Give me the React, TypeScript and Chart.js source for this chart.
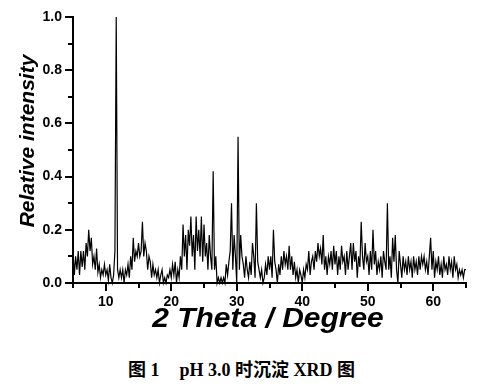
import React, { useEffect, useRef } from "react";
import { Chart, registerables } from "chart.js";

Chart.register(...registerables);

// 2θ scan: start angle and step (degrees)
const angleStart = 5;
const angleStep = 0.2;

// Relative intensity, one row per degree (5 readings per degree), 5° … 65°
const intensity: number[] = [
  0.12, 0.03, 0.10, 0.05, 0.12, // 5
  0.03, 0.12, 0.06, 0.12, 0.05, // 6
  0.15, 0.10, 0.20, 0.12, 0.17, // 7
  0.07, 0.10, 0.05, 0.13, 0.04, // 8
  0.07, 0.02, 0.05, 0.03, 0.07, // 9
  0.03, 0.05, 0.01, 0.07, 0.02, // 10
  0.00, 0.03, 0.12, 1.00, 0.05, // 11
  0.02, 0.05, 0.02, 0.05, 0.00, // 12
  0.05, 0.03, 0.07, 0.02, 0.10, // 13
  0.05, 0.17, 0.08, 0.12, 0.10, // 14
  0.15, 0.10, 0.12, 0.23, 0.10, // 15
  0.15, 0.12, 0.05, 0.10, 0.08, // 16
  0.02, 0.07, 0.03, 0.05, 0.02, // 17
  0.05, 0.00, 0.03, 0.05, 0.00, // 18
  0.02, 0.00, 0.03, 0.02, 0.05, // 19
  0.02, 0.07, 0.03, 0.08, 0.00, // 20
  0.05, 0.02, 0.10, 0.05, 0.22, // 21
  0.10, 0.18, 0.05, 0.20, 0.14, // 22
  0.25, 0.10, 0.18, 0.05, 0.25, // 23
  0.12, 0.20, 0.10, 0.25, 0.08, // 24
  0.22, 0.10, 0.15, 0.05, 0.18, // 25
  0.10, 0.05, 0.42, 0.05, 0.10, // 26
  0.00, 0.02, 0.00, 0.02, 0.00, // 27
  0.02, 0.00, 0.07, 0.03, 0.08, // 28
  0.12, 0.30, 0.05, 0.18, 0.10, // 29
  0.00, 0.55, 0.05, 0.18, 0.10, // 30
  0.07, 0.02, 0.10, 0.05, 0.02, // 31
  0.08, 0.03, 0.15, 0.10, 0.02, // 32
  0.30, 0.08, 0.05, 0.02, 0.05, // 33
  0.00, 0.02, 0.07, 0.03, 0.10, // 34
  0.05, 0.10, 0.02, 0.20, 0.08, // 35
  0.05, 0.00, 0.07, 0.03, 0.10, // 36
  0.05, 0.12, 0.07, 0.10, 0.05, // 37
  0.14, 0.05, 0.10, 0.03, 0.08, // 38
  0.02, 0.05, 0.00, 0.05, 0.03, // 39
  0.00, 0.05, 0.02, 0.07, 0.05, // 40
  0.12, 0.03, 0.08, 0.10, 0.05, // 41
  0.12, 0.08, 0.15, 0.10, 0.13, // 42
  0.07, 0.18, 0.05, 0.10, 0.03, // 43
  0.10, 0.07, 0.12, 0.05, 0.14, // 44
  0.07, 0.12, 0.03, 0.10, 0.05, // 45
  0.14, 0.08, 0.10, 0.03, 0.12, // 46
  0.05, 0.10, 0.15, 0.05, 0.15, // 47
  0.08, 0.12, 0.02, 0.10, 0.06, // 48
  0.23, 0.10, 0.05, 0.15, 0.08, // 49
  0.10, 0.03, 0.12, 0.05, 0.20, // 50
  0.07, 0.12, 0.03, 0.08, 0.05, // 51
  0.10, 0.02, 0.12, 0.08, 0.05, // 52
  0.30, 0.05, 0.10, 0.02, 0.17, // 53
  0.08, 0.18, 0.05, 0.00, 0.12, // 54
  0.07, 0.02, 0.10, 0.05, 0.08, // 55
  0.03, 0.10, 0.05, 0.08, 0.02, // 56
  0.10, 0.05, 0.08, 0.03, 0.10, // 57
  0.05, 0.10, 0.07, 0.10, 0.05, // 58
  0.08, 0.03, 0.10, 0.17, 0.05, // 59
  0.12, 0.02, 0.08, 0.05, 0.10, // 60
  0.03, 0.07, 0.02, 0.10, 0.05, // 61
  0.07, 0.03, 0.10, 0.05, 0.08, // 62
  0.02, 0.10, 0.05, 0.07, 0.02, // 63
  0.05, 0.03, 0.05, 0.02, 0.05, // 64
  0.05, // 65
];

const xMajorTicks = [10, 20, 30, 40, 50, 60];
const xMinorTicks = [5, 15, 25, 35, 45, 55, 65];
const yMajorTicks = [0, 0.2, 0.4, 0.6, 0.8, 1.0];
const yMinorTicks = [0.1, 0.3, 0.5, 0.7, 0.9];

const xTitle = "2 Theta / Degree";
const yTitle = "Relative intensity";
const captionLeft = "图 1";
const captionRight = "pH 3.0 时沉淀 XRD 图";

const SANS = '"Liberation Sans", Arial, sans-serif';

const decorPlugin = {
  id: "decor",
  afterDraw(chart: any) {
    const ctx = chart.ctx;
    const xs = chart.scales.x;
    const ys = chart.scales.y;
    const area = chart.chartArea;
    ctx.save();
    ctx.strokeStyle = "#000";
    ctx.lineWidth = 2;
    ctx.beginPath();
    for (const v of xMinorTicks) {
      const px = Math.round(xs.getPixelForValue(v));
      ctx.moveTo(px, area.bottom);
      ctx.lineTo(px, area.bottom + 5);
    }
    for (const v of yMinorTicks) {
      const py = Math.round(ys.getPixelForValue(v));
      ctx.moveTo(area.left, py);
      ctx.lineTo(area.left - 5, py);
    }
    ctx.stroke();

    ctx.fillStyle = "#000";
    ctx.textAlign = "center";
    ctx.textBaseline = "alphabetic";

    ctx.save();
    ctx.translate(268, 327);
    ctx.scale(1.07, 1);
    ctx.font = `italic bold 28px ${SANS}`;
    ctx.fillText(xTitle, 0, 0);
    ctx.restore();

    ctx.save();
    ctx.translate(34, 141);
    ctx.rotate(-Math.PI / 2);
    ctx.font = `italic bold 21px ${SANS}`;
    ctx.fillText(yTitle, 0, 0);
    ctx.restore();

    ctx.restore();
  },
};

export default function App() {
  const canvasRef = useRef<HTMLCanvasElement | null>(null);

  useEffect(() => {
    const canvas = canvasRef.current;
    if (!canvas) return;
    const points = intensity.map((v, i) => ({ x: angleStart + i * angleStep, y: v }));
    const chart = new Chart(canvas, {
      type: "line",
      data: {
        datasets: [
          {
            data: points,
            borderColor: "#000",
            borderWidth: 1.2,
            pointRadius: 0,
            tension: 0,
            clip: false as any,
          },
        ],
      },
      options: {
        animation: false,
        responsive: false,
        devicePixelRatio: 1,
        layout: { padding: { top: 17, right: 31, left: 0, bottom: 0 } },
        plugins: { legend: { display: false }, tooltip: { enabled: false } },
        scales: {
          x: {
            type: "linear",
            min: 5,
            max: 65,
            afterBuildTicks: (scale: any) => {
              scale.ticks = xMajorTicks.map((v) => ({ value: v }));
            },
            afterFit: (scale: any) => {
              scale.height = 57;
            },
            border: { display: true, color: "#000", width: 2 },
            grid: { display: true, drawOnChartArea: false, drawTicks: true, tickLength: 8, color: "#000", lineWidth: 2 },
            ticks: {
              color: "#000",
              font: { family: SANS, size: 14, weight: "bold" },
              padding: 3,
              maxRotation: 0,
              callback: (v: any) => String(v),
            },
          },
          y: {
            type: "linear",
            min: 0,
            max: 1,
            afterBuildTicks: (scale: any) => {
              scale.ticks = yMajorTicks.map((v) => ({ value: v }));
            },
            afterFit: (scale: any) => {
              scale.width = 73;
            },
            border: { display: true, color: "#000", width: 2 },
            grid: { display: true, drawOnChartArea: false, drawTicks: true, tickLength: 8, color: "#000", lineWidth: 2 },
            ticks: {
              color: "#000",
              font: { family: SANS, size: 14, weight: "bold" },
              padding: 3,
              callback: (v: any) => Number(v).toFixed(1),
            },
          },
        },
      } as any,
      plugins: [decorPlugin],
    });
    return () => chart.destroy();
  }, []);

  return (
    <div style={{ position: "fixed", left: 0, top: 0, width: 497, height: 392, background: "#fff" }}>
      <canvas ref={canvasRef} width={497} height={340} style={{ width: 497, height: 340, display: "block" }} />
      <div
        style={{
          position: "absolute",
          left: 128,
          top: 360,
          fontFamily: '"Liberation Serif", "Noto Sans CJK SC", serif',
          fontWeight: "bold",
          fontSize: 18,
          lineHeight: "20px",
          whiteSpace: "nowrap",
          color: "#000",
        }}
      >
        <span>{captionLeft}</span>
        <span style={{ marginLeft: 20 }}>{captionRight}</span>
      </div>
    </div>
  );
}
